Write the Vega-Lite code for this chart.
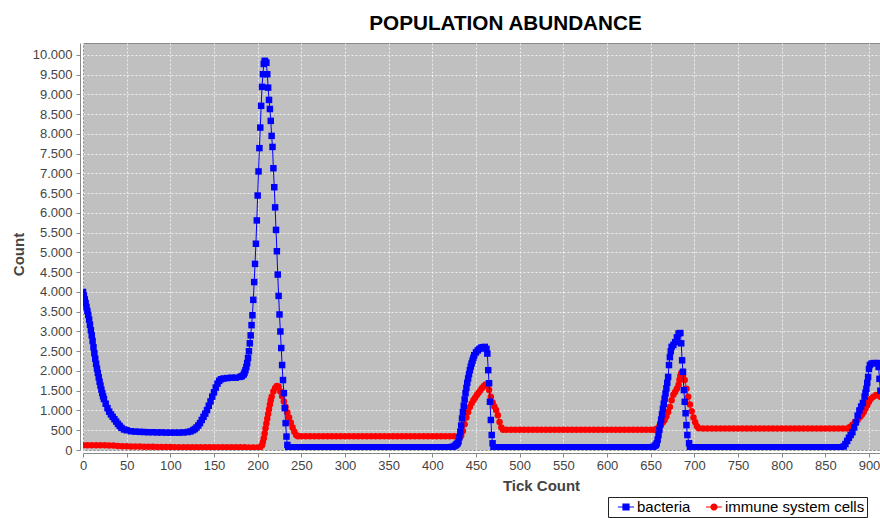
{
  "$schema": "https://vega.github.io/schema/vega-lite/v6.json",
  "width": 797,
  "height": 407,
  "autosize": {"type": "none"},
  "padding": {"left": 83, "top": 43, "right": 0, "bottom": 68},
  "background": "#ffffff",
  "title": {
    "text": "POPULATION ABUNDANCE",
    "font": "Liberation Sans",
    "fontSize": 20.7,
    "fontWeight": "bold",
    "color": "#000000",
    "anchor": "middle",
    "frame": "group",
    "dx": 24,
    "offset": -8,
    "baseline": "alphabetic"
  },
  "datasets": {
    "b": [
      {"t":0,"v":4000},{"t":1,"v":3910},{"t":2,"v":3810},{"t":3,"v":3720},{"t":4,"v":3620},{"t":5,"v":3520},{"t":6,"v":3420},{"t":7,"v":3300},{"t":8,"v":3170},{"t":9,"v":3030},{"t":10,"v":2900},{"t":11,"v":2760},{"t":12,"v":2600},{"t":13,"v":2450},{"t":14,"v":2310},{"t":15,"v":2180},{"t":16,"v":2060},{"t":17,"v":1950},{"t":18,"v":1840},{"t":19,"v":1730},{"t":20,"v":1630},{"t":21,"v":1530},{"t":22,"v":1440},{"t":23,"v":1360},{"t":24,"v":1290},{"t":26,"v":1170},{"t":28,"v":1060},{"t":30,"v":970},{"t":32,"v":900},{"t":34,"v":840},{"t":36,"v":780},{"t":38,"v":720},{"t":40,"v":660},{"t":42,"v":610},{"t":44,"v":560},{"t":47,"v":520},{"t":50,"v":500},{"t":55,"v":475},{"t":60,"v":465},{"t":65,"v":460},{"t":70,"v":455},{"t":75,"v":450},{"t":80,"v":450},{"t":85,"v":445},{"t":90,"v":445},{"t":95,"v":440},{"t":100,"v":440},{"t":105,"v":440},{"t":110,"v":440},{"t":115,"v":445},{"t":120,"v":455},{"t":123,"v":470},{"t":126,"v":500},{"t":128,"v":530},{"t":130,"v":570},{"t":132,"v":620},{"t":134,"v":680},{"t":136,"v":760},{"t":138,"v":840},{"t":140,"v":920},{"t":142,"v":1010},{"t":144,"v":1120},{"t":146,"v":1230},{"t":148,"v":1350},{"t":150,"v":1460},{"t":152,"v":1580},{"t":154,"v":1680},{"t":156,"v":1750},{"t":158,"v":1790},{"t":161,"v":1810},{"t":165,"v":1820},{"t":170,"v":1830},{"t":175,"v":1830},{"t":180,"v":1850},{"t":182,"v":1870},{"t":184,"v":1910},{"t":185,"v":1960},{"t":186,"v":2020},{"t":187,"v":2100},{"t":188,"v":2200},{"t":189,"v":2330},{"t":190,"v":2500},{"t":191,"v":2700},{"t":192,"v":2900},{"t":193,"v":3160},{"t":194,"v":3410},{"t":195,"v":3800},{"t":196,"v":4250},{"t":197,"v":4710},{"t":198,"v":5220},{"t":199,"v":5810},{"t":200,"v":6440},{"t":201,"v":7050},{"t":202,"v":7640},{"t":203,"v":8160},{"t":204,"v":8710},{"t":205,"v":9190},{"t":206,"v":9510},{"t":207,"v":9770},{"t":208,"v":9850},{"t":209,"v":9820},{"t":210,"v":9800},{"t":211,"v":9510},{"t":212,"v":9170},{"t":213,"v":8860},{"t":214,"v":8630},{"t":215,"v":8330},{"t":216,"v":7950},{"t":217,"v":7670},{"t":218,"v":7130},{"t":219,"v":6650},{"t":220,"v":6140},{"t":221,"v":5570},{"t":222,"v":5030},{"t":223,"v":4440},{"t":224,"v":3900},{"t":225,"v":3430},{"t":226,"v":3000},{"t":227,"v":2580},{"t":228,"v":2150},{"t":229,"v":1770},{"t":230,"v":1440},{"t":231,"v":1060},{"t":232,"v":680},{"t":233,"v":340},{"t":234,"v":130},{"t":235,"v":70},
      {"t":240,"v":70},{"t":245,"v":70},{"t":250,"v":70},{"t":255,"v":70},{"t":260,"v":70},{"t":265,"v":70},{"t":270,"v":70},{"t":275,"v":70},{"t":280,"v":70},{"t":285,"v":70},{"t":290,"v":70},{"t":295,"v":70},{"t":300,"v":70},{"t":305,"v":70},{"t":310,"v":70},{"t":315,"v":70},{"t":320,"v":70},{"t":325,"v":70},{"t":330,"v":70},{"t":335,"v":70},{"t":340,"v":70},{"t":345,"v":70},{"t":350,"v":70},{"t":355,"v":70},{"t":360,"v":70},{"t":365,"v":70},{"t":370,"v":70},{"t":375,"v":70},{"t":380,"v":70},{"t":385,"v":70},{"t":390,"v":70},{"t":395,"v":70},{"t":400,"v":70},{"t":405,"v":70},{"t":410,"v":70},{"t":415,"v":70},{"t":420,"v":70},
      {"t":422,"v":75},{"t":424,"v":85},{"t":426,"v":110},{"t":427,"v":130},{"t":428,"v":150},{"t":429,"v":170},{"t":430,"v":220},{"t":431,"v":320},{"t":432,"v":460},{"t":433,"v":620},{"t":434,"v":800},{"t":435,"v":960},{"t":436,"v":1120},{"t":437,"v":1280},{"t":438,"v":1440},{"t":439,"v":1570},{"t":440,"v":1700},{"t":441,"v":1810},{"t":442,"v":1920},{"t":443,"v":2020},{"t":444,"v":2110},{"t":445,"v":2190},{"t":446,"v":2260},{"t":447,"v":2330},{"t":448,"v":2400},{"t":450,"v":2470},{"t":452,"v":2520},{"t":454,"v":2560},{"t":456,"v":2590},{"t":458,"v":2600},{"t":460,"v":2610},{"t":462,"v":2560},{"t":463,"v":2440},{"t":464,"v":2020},{"t":465,"v":1690},{"t":466,"v":1220},{"t":467,"v":760},{"t":468,"v":380},{"t":469,"v":170},{"t":470,"v":70},
      {"t":475,"v":70},{"t":480,"v":70},{"t":485,"v":70},{"t":490,"v":70},{"t":495,"v":70},{"t":500,"v":70},{"t":505,"v":70},{"t":510,"v":70},{"t":515,"v":70},{"t":520,"v":70},{"t":525,"v":70},{"t":530,"v":70},{"t":535,"v":70},{"t":540,"v":70},{"t":545,"v":70},{"t":550,"v":70},{"t":555,"v":70},{"t":560,"v":70},{"t":565,"v":70},{"t":570,"v":70},{"t":575,"v":70},{"t":580,"v":70},{"t":585,"v":70},{"t":590,"v":70},{"t":595,"v":70},{"t":600,"v":70},{"t":605,"v":70},{"t":610,"v":70},{"t":615,"v":70},{"t":620,"v":70},{"t":625,"v":70},{"t":630,"v":70},{"t":635,"v":70},{"t":640,"v":70},{"t":645,"v":70},{"t":650,"v":70},
      {"t":653,"v":80},{"t":655,"v":110},{"t":656,"v":130},{"t":657,"v":170},{"t":658,"v":260},{"t":659,"v":380},{"t":660,"v":510},{"t":661,"v":640},{"t":662,"v":770},{"t":663,"v":900},{"t":664,"v":1040},{"t":665,"v":1170},{"t":666,"v":1300},{"t":667,"v":1430},{"t":668,"v":1560},{"t":669,"v":1700},{"t":670,"v":1850},{"t":671,"v":2150},{"t":672,"v":2350},{"t":673,"v":2500},{"t":674,"v":2610},{"t":676,"v":2660},{"t":678,"v":2730},{"t":680,"v":2850},{"t":682,"v":2950},{"t":684,"v":2960},{"t":685,"v":2700},{"t":686,"v":2270},{"t":687,"v":1980},{"t":688,"v":1515},{"t":689,"v":1220},{"t":690,"v":930},{"t":691,"v":630},{"t":692,"v":380},{"t":694,"v":170},{"t":695,"v":70},
      {"t":700,"v":70},{"t":705,"v":70},{"t":710,"v":70},{"t":715,"v":70},{"t":720,"v":70},{"t":725,"v":70},{"t":730,"v":70},{"t":735,"v":70},{"t":740,"v":70},{"t":745,"v":70},{"t":750,"v":70},{"t":755,"v":70},{"t":760,"v":70},{"t":765,"v":70},{"t":770,"v":70},{"t":775,"v":70},{"t":780,"v":70},{"t":785,"v":70},{"t":790,"v":70},{"t":795,"v":70},{"t":800,"v":70},{"t":805,"v":70},{"t":810,"v":70},{"t":815,"v":70},{"t":820,"v":70},{"t":825,"v":70},{"t":830,"v":70},{"t":835,"v":70},{"t":840,"v":70},{"t":845,"v":70},{"t":850,"v":70},{"t":855,"v":70},{"t":860,"v":70},{"t":865,"v":70},
      {"t":868,"v":70},{"t":871,"v":90},{"t":873,"v":150},{"t":875,"v":230},{"t":877,"v":310},{"t":879,"v":380},{"t":881,"v":450},{"t":883,"v":570},{"t":885,"v":700},{"t":887,"v":870},{"t":889,"v":1000},{"t":891,"v":1100},{"t":893,"v":1190},{"t":895,"v":1350},{"t":896,"v":1450},{"t":897,"v":1550},{"t":898,"v":1700},{"t":899,"v":1850},{"t":900,"v":2050},{"t":901,"v":2150},{"t":903,"v":2190},{"t":906,"v":2200},{"t":909,"v":2200},{"t":911,"v":2100},{"t":912,"v":1800},{"t":913,"v":1500}
    ],
    "r": [
      {"t":0,"v":120},{"t":5,"v":120},{"t":10,"v":120},{"t":15,"v":120},{"t":20,"v":120},{"t":25,"v":118},{"t":30,"v":115},{"t":35,"v":115},{"t":40,"v":100},{"t":45,"v":95},{"t":50,"v":92},{"t":55,"v":90},{"t":60,"v":88},{"t":65,"v":86},{"t":70,"v":84},{"t":75,"v":82},{"t":80,"v":80},{"t":85,"v":78},{"t":90,"v":76},{"t":95,"v":75},{"t":100,"v":74},{"t":105,"v":72},{"t":110,"v":72},{"t":115,"v":72},{"t":120,"v":71},{"t":125,"v":71},{"t":130,"v":70},{"t":135,"v":70},{"t":140,"v":70},{"t":145,"v":70},{"t":150,"v":70},{"t":155,"v":70},{"t":160,"v":70},{"t":165,"v":70},{"t":170,"v":70},{"t":175,"v":68},{"t":180,"v":68},{"t":185,"v":67},{"t":190,"v":66},{"t":195,"v":66},{"t":200,"v":65},{"t":203,"v":70},
      {"t":205,"v":120},{"t":206,"v":200},{"t":207,"v":300},{"t":208,"v":420},{"t":209,"v":550},{"t":210,"v":670},{"t":211,"v":790},{"t":212,"v":910},{"t":213,"v":1030},{"t":214,"v":1150},{"t":215,"v":1260},{"t":216,"v":1350},{"t":218,"v":1480},{"t":220,"v":1570},{"t":222,"v":1620},{"t":224,"v":1600},{"t":226,"v":1480},{"t":228,"v":1360},{"t":230,"v":1230},{"t":232,"v":1090},{"t":234,"v":950},{"t":236,"v":820},{"t":238,"v":690},{"t":240,"v":570},{"t":242,"v":460},{"t":244,"v":380},{"t":246,"v":350},
      {"t":250,"v":350},{"t":255,"v":350},{"t":260,"v":350},{"t":265,"v":350},{"t":270,"v":350},{"t":275,"v":350},{"t":280,"v":350},{"t":285,"v":350},{"t":290,"v":350},{"t":295,"v":350},{"t":300,"v":350},{"t":305,"v":350},{"t":310,"v":350},{"t":315,"v":350},{"t":320,"v":350},{"t":325,"v":350},{"t":330,"v":350},{"t":335,"v":350},{"t":340,"v":350},{"t":345,"v":350},{"t":350,"v":350},{"t":355,"v":350},{"t":360,"v":350},{"t":365,"v":350},{"t":370,"v":350},{"t":375,"v":350},{"t":380,"v":350},{"t":385,"v":350},{"t":390,"v":350},{"t":395,"v":350},{"t":400,"v":350},{"t":405,"v":350},{"t":410,"v":350},{"t":415,"v":350},{"t":420,"v":350},{"t":425,"v":350},{"t":430,"v":350},
      {"t":433,"v":360},{"t":435,"v":480},{"t":437,"v":650},{"t":439,"v":820},{"t":441,"v":960},{"t":443,"v":1090},{"t":445,"v":1180},{"t":447,"v":1260},{"t":449,"v":1320},{"t":451,"v":1390},{"t":453,"v":1450},{"t":455,"v":1510},{"t":457,"v":1570},{"t":459,"v":1620},{"t":461,"v":1660},{"t":463,"v":1640},{"t":465,"v":1520},{"t":467,"v":1350},{"t":469,"v":1200},{"t":471,"v":1100},{"t":473,"v":1010},{"t":475,"v":880},{"t":477,"v":710},{"t":479,"v":570},{"t":481,"v":510},
      {"t":485,"v":510},{"t":490,"v":510},{"t":495,"v":510},{"t":500,"v":510},{"t":505,"v":510},{"t":510,"v":510},{"t":515,"v":510},{"t":520,"v":510},{"t":525,"v":510},{"t":530,"v":510},{"t":535,"v":510},{"t":540,"v":510},{"t":545,"v":510},{"t":550,"v":510},{"t":555,"v":510},{"t":560,"v":510},{"t":565,"v":510},{"t":570,"v":510},{"t":575,"v":510},{"t":580,"v":510},{"t":585,"v":510},{"t":590,"v":510},{"t":595,"v":510},{"t":600,"v":510},{"t":605,"v":510},{"t":610,"v":510},{"t":615,"v":510},{"t":620,"v":510},{"t":625,"v":510},{"t":630,"v":510},{"t":635,"v":510},{"t":640,"v":510},{"t":645,"v":510},{"t":650,"v":510},
      {"t":654,"v":515},{"t":657,"v":540},{"t":660,"v":600},{"t":662,"v":650},{"t":664,"v":700},{"t":666,"v":760},{"t":668,"v":850},{"t":670,"v":960},{"t":672,"v":1090},{"t":674,"v":1260},{"t":676,"v":1400},{"t":678,"v":1470},{"t":680,"v":1550},{"t":682,"v":1650},{"t":683,"v":1780},{"t":684,"v":1880},{"t":685,"v":1950},{"t":686,"v":1940},{"t":687,"v":1900},{"t":689,"v":1770},{"t":691,"v":1550},{"t":693,"v":1350},{"t":695,"v":1150},{"t":697,"v":980},{"t":699,"v":820},{"t":701,"v":700},{"t":703,"v":600},{"t":705,"v":550},
      {"t":710,"v":545},{"t":715,"v":545},{"t":720,"v":545},{"t":725,"v":545},{"t":730,"v":545},{"t":735,"v":545},{"t":740,"v":545},{"t":745,"v":545},{"t":750,"v":545},{"t":755,"v":545},{"t":760,"v":545},{"t":765,"v":545},{"t":770,"v":545},{"t":775,"v":545},{"t":780,"v":545},{"t":785,"v":545},{"t":790,"v":545},{"t":795,"v":545},{"t":800,"v":545},{"t":805,"v":545},{"t":810,"v":545},{"t":815,"v":545},{"t":820,"v":545},{"t":825,"v":545},{"t":830,"v":545},{"t":835,"v":545},{"t":840,"v":545},{"t":845,"v":545},{"t":850,"v":545},{"t":855,"v":545},{"t":860,"v":545},{"t":865,"v":545},{"t":870,"v":545},{"t":875,"v":545},
      {"t":878,"v":580},{"t":881,"v":640},{"t":884,"v":700},{"t":887,"v":760},{"t":890,"v":840},{"t":892,"v":900},{"t":894,"v":960},{"t":896,"v":1050},{"t":898,"v":1130},{"t":900,"v":1220},{"t":902,"v":1290},{"t":905,"v":1350},{"t":908,"v":1390},{"t":911,"v":1380},{"t":913,"v":1350}
    ]
  },
  "encoding": {
    "x": {
      "field": "t",
      "type": "quantitative",
      "scale": {"domain": [0, 912.6], "nice": false, "zero": false},
      "axis": {
        "values": [0,50,100,150,200,250,300,350,400,450,500,550,600,650,700,750,800,850,900],
        "title": "Tick Count",
        "labelFlush": false,
        "labelOverlap": false,
        "offset": 3,
        "tickSize": 4,
        "labelPadding": 2,
        "titleX": 458,
        "titleY": 32,
        "titleAlign": "center",
        "titleBaseline": "middle"
      }
    },
    "y": {
      "field": "v",
      "type": "quantitative",
      "scale": {"domain": [0, 10300], "nice": false, "zero": true},
      "axis": {
        "values": [0,500,1000,1500,2000,2500,3000,3500,4000,4500,5000,5500,6000,6500,7000,7500,8000,8500,9000,9500,10000],
        "title": "Count",
        "labelExpr": "replace(format(datum.value, ','), ',', '.')",
        "labelOverlap": false,
        "offset": 3,
        "tickSize": 4,
        "labelPadding": 4,
        "titleX": -62,
        "titleY": 211,
        "titleAngle": 270,
        "titleAlign": "center",
        "titleBaseline": "middle"
      }
    }
  },
  "layer": [
    {
      "data": {"name": "r"},
      "mark": {"type": "line", "color": "#ff0000", "strokeWidth": 1, "clip": true},
      "encoding": {}
    },
    {
      "data": {"name": "r"},
      "mark": {"type": "point", "shape": "circle", "filled": true, "size": 42, "opacity": 1, "clip": true},
      "encoding": {
        "color": {
          "datum": "immune system cells",
          "scale": {"domain": ["bacteria", "immune system cells"], "range": ["#0000ff", "#ff0000"]},
          "legend": {
            "title": null,
            "orient": "none",
            "legendX": 525,
            "legendY": 454,
            "direction": "horizontal",
            "strokeColor": "#222222",
            "fillColor": "#ffffff",
            "padding": 2,
            "symbolSize": 256,
            "symbolType": {"expr": "datum.value === 'bacteria' ? 'M0,-0.07H2V0.07H0Z M0.55,-0.45H1.45V0.45H0.55Z' : 'M0,-0.07H2V0.07H0Z M1.45,0A0.45,0.45 0 1,1 0.55,0A0.45,0.45 0 1,1 1.45,0Z'"},
            "symbolStrokeWidth": 0,
            "symbolOpacity": 1,
            "labelFont": "Liberation Sans",
            "labelFontSize": 15,
            "labelColor": "#000000",
            "labelOffset": 11,
            "columnPadding": 7
          }
        }
      }
    },
    {
      "data": {"name": "b"},
      "mark": {"type": "line", "color": "#0000ff", "strokeWidth": 1, "clip": true},
      "encoding": {}
    },
    {
      "data": {"name": "b"},
      "mark": {"type": "point", "shape": "square", "filled": true, "size": 42, "opacity": 1, "clip": true},
      "encoding": {
        "color": {
          "datum": "bacteria",
          "scale": {"domain": ["bacteria", "immune system cells"], "range": ["#0000ff", "#ff0000"]},
          "legend": {
            "title": null,
            "orient": "none",
            "legendX": 525,
            "legendY": 454,
            "direction": "horizontal",
            "strokeColor": "#222222",
            "fillColor": "#ffffff",
            "padding": 2,
            "symbolSize": 256,
            "symbolType": {"expr": "datum.value === 'bacteria' ? 'M0,-0.07H2V0.07H0Z M0.55,-0.45H1.45V0.45H0.55Z' : 'M0,-0.07H2V0.07H0Z M1.45,0A0.45,0.45 0 1,1 0.55,0A0.45,0.45 0 1,1 1.45,0Z'"},
            "symbolStrokeWidth": 0,
            "symbolOpacity": 1,
            "labelFont": "Liberation Sans",
            "labelFontSize": 15,
            "labelColor": "#000000",
            "labelOffset": 11,
            "columnPadding": 7
          }
        }
      }
    }
  ],
  "config": {
    "view": {"fill": "#c0c0c0", "stroke": "#888888", "strokeWidth": 1},
    "axis": {
      "labelFont": "Liberation Sans",
      "labelFontSize": 13,
      "labelColor": "#444444",
      "titleFont": "Liberation Sans",
      "titleFontSize": 15,
      "titleFontWeight": "bold",
      "titleColor": "#444444",
      "domainColor": "#888888",
      "tickColor": "#888888",
      "grid": true,
      "gridColor": "#ffffff",
      "gridDash": [2, 2],
      "gridOpacity": 0.75,
      "gridWidth": 1
    }
  }
}
